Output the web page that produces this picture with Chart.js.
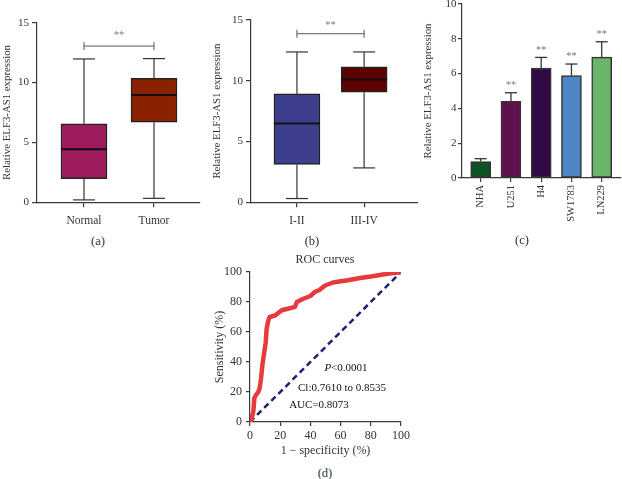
<!DOCTYPE html>
<html>
<head>
<meta charset="utf-8">
<script src="https://cdn.jsdelivr.net/npm/chart.js@4.4.1/dist/chart.umd.min.js"></script>
<style>
  body { margin: 0; background: #fff; width: 622px; height: 479px; overflow: hidden; position: relative;
         font-family: "Liberation Serif", serif; color: #333; }
  canvas { position: absolute; }
  .lbl { position: absolute; transform: translate(-50%, -50%); white-space: nowrap; }
</style>
</head>
<body>
<canvas id="chartA" width="205" height="232" style="left:0;top:0"></canvas>
<canvas id="chartB" width="212" height="232" style="left:210px;top:0"></canvas>
<canvas id="chartC" width="207" height="235" style="left:415px;top:-6px"></canvas>
<canvas id="chartD" width="220" height="213" style="left:195px;top:245px"></canvas>

<div class="lbl" style="left:98px;top:241px;font-size:12.5px">(a)</div>
<div class="lbl" style="left:312px;top:241px;font-size:12.5px">(b)</div>
<div class="lbl" style="left:522px;top:240px;font-size:12.5px">(c)</div>
<div class="lbl" style="left:325px;top:473px;font-size:12.5px">(d)</div>
<div class="lbl" style="left:325px;top:259px;font-size:12px">ROC curves</div>
<div class="lbl" style="left:346px;top:367px;font-size:11px;color:#111"><i>P</i>&lt;0.0001</div>
<div class="lbl" style="left:342px;top:387px;font-size:11px;color:#111">Cl:0.7610 to 0.8535</div>
<div class="lbl" style="left:319px;top:404px;font-size:11px;color:#111">AUC=0.8073</div>

<script>
// (a) tissue
const tissueGroups = ['Normal', 'Tumor'];
const tissueMin = [0.2, 0.33];
const tissueQ1 = [1.97, 6.69];
const tissueMedian = [4.44, 8.97];
const tissueQ3 = [6.55, 10.36];
const tissueMax = [11.97, 12.0];
const tissueBracket = 13.05;

// (b) stage
const stageGroups = ['I-II', 'III-IV'];
const stageMin = [0.31, 2.83];
const stageQ1 = [3.12, 9.06];
const stageMedian = [6.49, 10.1];
const stageQ3 = [8.92, 11.15];
const stageMax = [12.37, 12.37];
const stageBracket = 13.87;

// (c) cell lines
const cellLines = ['NHA', 'U251', 'H4', 'SW1783', 'LN229'];
const cellMean = [0.95, 4.40, 6.32, 5.88, 6.95];
const cellSd = [0.16, 0.50, 0.61, 0.67, 0.88];
const cellStars = ['', '**', '**', '**', '**'];

// (d) ROC
const rocFpr = [0, 1, 2.2, 2.9, 4, 5.5, 6.5, 7.3, 8.2, 9.5, 10.4, 11, 12.2, 13, 16.6, 21, 25, 29.8, 31, 35,
                40, 43, 46, 49.7, 55, 60, 65, 72.8, 80, 86, 92, 97, 100];
const rocTpr = [0, 2, 7, 16, 18, 20, 23, 29, 38, 47, 53, 62, 68, 70, 71, 74.5, 75.5, 76.8, 80, 82,
                84, 86.8, 88, 91, 93, 93.8, 94.5, 96, 97, 98, 99, 99.5, 100];
const refLine = [0, 100];

const AXIS = '#3a3a3a';
const SERIF = 'Liberation Serif';
const yTitle = 'Relative ELF3-AS1 expression';

function line(ctx, x1, y1, x2, y2) {
  ctx.beginPath(); ctx.moveTo(x1, y1); ctx.lineTo(x2, y2); ctx.stroke();
}

// whiskers, medians and the significance bracket
const boxPlugin = {
  id: 'boxWhisker',
  afterDatasetsDraw(chart, args, o) {
    const { ctx, scales: { x, y } } = chart;
    ctx.save();
    o.mins.forEach((mn, i) => {
      const cx = x.getPixelForValue(i);
      ctx.strokeStyle = '#333';
      ctx.lineWidth = 1.2;
      line(ctx, cx, y.getPixelForValue(o.q3[i]), cx, y.getPixelForValue(o.maxs[i]));
      line(ctx, cx, y.getPixelForValue(o.q1[i]), cx, y.getPixelForValue(mn));
      line(ctx, cx - o.cap / 2, y.getPixelForValue(o.maxs[i]), cx + o.cap / 2, y.getPixelForValue(o.maxs[i]));
      line(ctx, cx - o.cap / 2, y.getPixelForValue(mn), cx + o.cap / 2, y.getPixelForValue(mn));
      ctx.strokeStyle = '#111';
      ctx.lineWidth = 2;
      line(ctx, cx - o.box / 2, y.getPixelForValue(o.med[i]), cx + o.box / 2, y.getPixelForValue(o.med[i]));
    });
    const x0 = x.getPixelForValue(0), x1 = x.getPixelForValue(1), by = y.getPixelForValue(o.bracket);
    ctx.strokeStyle = '#555';
    ctx.lineWidth = 1;
    line(ctx, x0, by, x1, by);
    line(ctx, x0, by - 4, x0, by + 4);
    line(ctx, x1, by - 4, x1, by + 4);
    ctx.fillStyle = '#777';
    ctx.font = '10.5px "Liberation Serif"';
    ctx.textAlign = 'center';
    ctx.textBaseline = 'middle';
    ctx.fillText('**', (x0 + x1) / 2, by - o.starGap);
    ctx.restore();
  }
};

// error bars with asterisks
const errPlugin = {
  id: 'errBars',
  afterDatasetsDraw(chart, args, o) {
    const { ctx, scales: { x, y } } = chart;
    ctx.save();
    cellMean.forEach((m, i) => {
      const cx = x.getPixelForValue(i);
      const top = y.getPixelForValue(m + cellSd[i]);
      ctx.strokeStyle = '#333';
      ctx.lineWidth = 1.3;
      line(ctx, cx, y.getPixelForValue(m), cx, top);
      line(ctx, cx - 6, top, cx + 6, top);
      if (cellStars[i]) {
        ctx.fillStyle = '#777';
        ctx.font = '10.5px "Liberation Serif"';
        ctx.textAlign = 'center';
        ctx.textBaseline = 'middle';
        ctx.fillText(cellStars[i], cx, top - 7.5);
      }
    });
    ctx.restore();
  }
};

function groupAxis(labels, min, max, height, rotate, fontSize) {
  return {
    type: 'linear', min, max, offset: false,
    afterBuildTicks: s => { s.ticks = labels.map((_, i) => ({ value: i })); },
    afterFit: s => { s.height = height; },
    ticks: {
      callback: v => labels[v], autoSkip: false, color: '#333',
      font: { family: SERIF, size: fontSize }, padding: rotate ? 3 : 7,
      maxRotation: rotate ? 90 : 0, minRotation: rotate ? 90 : 0
    },
    grid: { drawOnChartArea: false, offset: false, tickLength: rotate ? 4 : 5, color: AXIS, lineWidth: 1.2 },
    border: { color: AXIS, width: 1.2 }
  };
}

function valueAxis(max, step, width, titlePad, tickLen, tickPad) {
  return {
    min: 0, max,
    afterFit: s => { s.width = width; },
    ticks: { stepSize: step, color: '#333', font: { family: SERIF, size: 11 }, padding: tickPad },
    grid: { drawOnChartArea: false, tickLength: tickLen, color: AXIS, lineWidth: 1.2 },
    border: { color: AXIS, width: 1.2 },
    title: { display: true, text: yTitle, color: '#333', font: { family: SERIF, size: 10.8 },
             padding: { top: titlePad, bottom: 0 } }
  };
}

function boxChart(id, groups, mins, q1, med, q3, maxs, bracket, colors, xmin, xmax, yWidth, pad, starGap) {
  new Chart(document.getElementById(id), {
    type: 'bar',
    data: {
      datasets: [{
        data: groups.map((g, i) => ({ x: i, y: [q1[i], q3[i]] })),
        backgroundColor: colors,
        borderColor: '#222',
        borderWidth: 1.5,
        borderSkipped: false,
        barThickness: 46
      }]
    },
    options: {
      responsive: false,
      animation: false,
      layout: { padding: pad },
      plugins: {
        legend: { display: false }, tooltip: { enabled: false },
        boxWhisker: { mins, q1, med, q3, maxs, bracket, box: 46, cap: 22, starGap }
      },
      scales: {
        x: groupAxis(groups, xmin, xmax, 29.7, false, 11.5),
        y: valueAxis(15, 5, yWidth, 1, 5, 3)
      }
    },
    plugins: [boxPlugin]
  });
}

boxChart('chartA', tissueGroups, tissueMin, tissueQ1, tissueMedian, tissueQ3, tissueMax, tissueBracket,
         ['#9e1b5c', '#8a2200'], -0.671, 1.657, 37, { top: 22.7, right: 5, left: 0, bottom: 0 }, 11);
boxChart('chartB', stageGroups, stageMin, stageQ1, stageMedian, stageQ3, stageMax, stageBracket,
         ['#3e3e8e', '#5c0000'], -0.684, 1.802, 41, { top: 20, right: 4, left: 0, bottom: 0 }, 8);

new Chart(document.getElementById('chartC'), {
  type: 'bar',
  data: {
    datasets: [{
      data: cellLines.map((c, i) => ({ x: i, y: cellMean[i] })),
      backgroundColor: ['#0f5224', '#5e0f4e', '#300a45', '#4e86c8', '#6bb46b'],
      borderColor: '#333',
      borderWidth: 1.5,
      borderSkipped: false,
      barThickness: 20
    }]
  },
  options: {
    responsive: false,
    animation: false,
    layout: { padding: { top: 10, right: 1, left: 0, bottom: 1 } },
    plugins: { legend: { display: false }, tooltip: { enabled: false } },
    scales: {
      x: groupAxis(cellLines, -0.618, 4.638, 50, true, 10.5),
      y: valueAxis(10, 2, 47, 6.7, 4, 1.5)
    }
  },
  plugins: [errPlugin]
});

new Chart(document.getElementById('chartD'), {
  type: 'scatter',
  data: {
    datasets: [{
      data: rocFpr.map((v, i) => ({ x: v, y: rocTpr[i] })),
      showLine: true, borderColor: '#e63a3c', borderWidth: 4.5, pointRadius: 0,
      borderCapStyle: 'round', borderJoinStyle: 'round'
    }, {
      data: refLine.map(v => ({ x: v, y: v })),
      showLine: true, borderColor: '#1b2270', borderWidth: 2.5, borderDash: [6, 4], pointRadius: 0
    }]
  },
  options: {
    responsive: false,
    animation: false,
    layout: { padding: { top: 27, right: 14, left: 0, bottom: 0 } },
    plugins: { legend: { display: false }, tooltip: { enabled: false } },
    scales: {
      x: {
        min: 0, max: 100,
        afterFit: s => { s.height = 36; },
        ticks: { stepSize: 20, color: '#333', font: { family: SERIF, size: 12 }, padding: 2.5 },
        grid: { drawOnChartArea: false, tickLength: 4, color: AXIS, lineWidth: 1.2 },
        border: { color: AXIS, width: 1.2 },
        title: { display: true, text: '1 − specificity (%)', color: '#333', font: { family: SERIF, size: 12 },
                 padding: { top: 0, bottom: 0 } }
      },
      y: {
        min: 0, max: 100,
        afterFit: s => { s.width = 55; },
        ticks: { stepSize: 20, color: '#333', font: { family: SERIF, size: 12 }, padding: 4 },
        grid: { drawOnChartArea: false, tickLength: 4, color: AXIS, lineWidth: 1.2 },
        border: { color: AXIS, width: 1.2 },
        title: { display: true, text: 'Sensitivity (%)', color: '#333', font: { family: SERIF, size: 12 },
                 padding: { top: 18, bottom: 0 } }
      }
    }
  }
});
</script>
</body>
</html>
